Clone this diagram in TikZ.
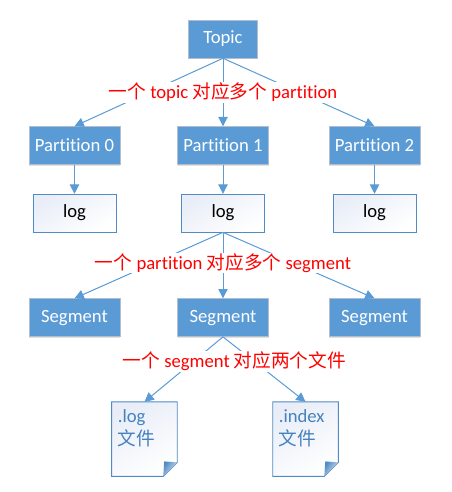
\documentclass[tikz,border=0pt]{standalone}
\usepackage{fontspec}
\setmainfont{Carlito}[Ligatures=NoCommon]
\newfontfamily\cjk{Noto Sans CJK SC}
\usetikzlibrary{
  arrows.meta,
  positioning, calc,
  backgrounds, shadows
}
\definecolor{boxblue}{RGB}{91,155,213}
\definecolor{boxBorder}{RGB}{178,190,205}
\definecolor{lineblue}{RGB}{91,155,213}
\definecolor{logBorder}{RGB}{80,140,195}
\definecolor{logTint}{RGB}{232,237,247}
\definecolor{docText}{RGB}{70,130,190}
\tikzset{
  basebox/.style={rectangle,align=center,font=\fontsize{14}{17}\selectfont,inner sep=0pt},
  bluenode/.style={basebox,fill=boxblue,draw=boxBorder,text=white,minimum width=68.25pt,minimum height=28.5pt,
    drop shadow={shadow xshift=0pt,shadow yshift=-1pt,fill=black,opacity=0.12}},
  topicnode/.style={bluenode,minimum width=51.75pt},
  paleshade/.style={shading=axis,left color=logTint,middle color=white,right color=white,shading angle=30},
  lognode/.style={basebox,draw=logBorder,paleshade,minimum width=62.25pt,minimum height=28.5pt},
  docnode/.style={basebox,align=left,text=docText,minimum width=48.75pt,minimum height=55.5pt,text width=40pt,anchor=north west},
  redlabel/.style={basebox,fill=white,text=red,inner xsep=1pt,inner ysep=0.5pt},
  arr/.style={-{Triangle[length=7pt,width=7pt]},draw=lineblue,line width=0.75pt}
}
\begin{document}
\begin{tikzpicture}
  \useasboundingbox (0,0) rectangle (338.25pt,-369pt);
  \node[topicnode] (topic) at (167.25pt,-29.25pt) {Topic};
  \node[bluenode,below=51pt of topic] (part1) {Partition 1};
  \node[bluenode,left=42.75pt of part1] (part0) {Partition 0};
  \node[bluenode,right=45pt of part1] (part2) {Partition 2};
  \node[lognode,below=21.75pt of part0] (log0) {log};
  \node[lognode,below=21.75pt of part1] (log1) {log};
  \node[lognode,below=21.75pt of part2] (log2) {log};
  \node[bluenode,below=49.5pt of log0] (seg0) {Segment};
  \node[bluenode,below=49.5pt of log1] (seg1) {Segment};
  \node[bluenode,below=49.5pt of log2] (seg2) {Segment};
  \node[docnode,below left=48.75pt and 0pt of seg1] (file0) {.log\\{\cjk 文件}\\~};
  \node[docnode,below right=48.75pt and 3pt of seg1] (file1) {.index\\{\cjk 文件}\\~};
  % page outline and folded corner
  \begin{scope}[on background layer]
    \foreach \x in {file0,file1} {
      \draw[draw=logBorder,line width=0.7pt,paleshade]
        (\x.north west) -- (\x.north east) -- ($(\x.south east)+(0,10.5pt)$)
        -- ($(\x.south east)+(-10.5pt,0)$) -- (\x.south west) -- cycle;
      \shade[shading=axis,left color=logBorder,right color=logTint,shading angle=55]
        ($(\x.south east)+(-10.5pt,0)$) -- ($(\x.south east)+(-9.75pt,11.25pt)$) -- ($(\x.south east)+(0,10.5pt)$) -- cycle;
    }
  \end{scope}
  \draw[arr] (topic.south) -- (part0.north);
  \draw[arr] (topic.south) -- (part1.north);
  \draw[arr] (topic.south) -- (part2.north);
  \foreach \x in {0,1,2} \draw[arr] (part\x) -- (log\x);
  \foreach \x in {0,1,2} \draw[arr] (log1.south) -- (seg\x.north);
  \draw[arr] (seg1.south) -- (file0.north);
  \draw[arr] (seg1.south) -- (file1.north);
  \node[redlabel,above=17.5pt of part1] (lab0) {{\cjk 一个} topic {\cjk 对应多个} partition};
  \node[redlabel,above=18.5pt of seg1] (lab1) {{\cjk 一个} partition {\cjk 对应多个} segment};
  \node[redlabel,below=10.5pt of seg1,xshift=8.5pt] (lab2) {{\cjk 一个} segment {\cjk 对应两个文件}};
\end{tikzpicture}
\end{document}
